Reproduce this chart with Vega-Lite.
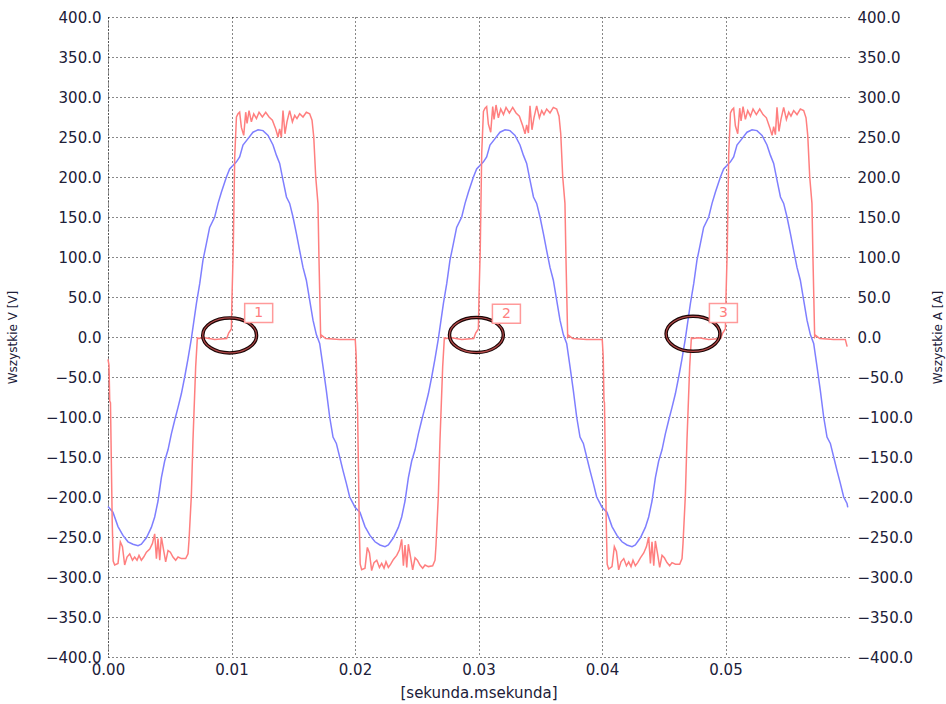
{
  "$schema": "https://vega.github.io/schema/vega-lite/v6.json",
  "width": 741,
  "height": 640,
  "autosize": "none",
  "padding": {"left": 108, "top": 17, "right": 97, "bottom": 47},
  "background": "white",
  "config": {
    "font": "DejaVu Sans",
    "view": {"stroke": null}
  },
  "datasets": {
    "blue": [
      {"t":0,"v":-212},{"t":0.0004,"v":-219},{"t":0.00081,"v":-237},{"t":0.00121,"v":-248},{"t":0.00162,"v":-256},{"t":0.00202,"v":-259},{"t":0.00243,"v":-261},{"t":0.0027,"v":-259},{"t":0.00311,"v":-251},{"t":0.00351,"v":-238},{"t":0.00378,"v":-225},{"t":0.00405,"v":-205},{"t":0.00432,"v":-176},{"t":0.00459,"v":-155},{"t":0.00486,"v":-141},{"t":0.00513,"v":-121},{"t":0.0054,"v":-104},{"t":0.00567,"v":-88},{"t":0.00594,"v":-71},{"t":0.00621,"v":-50},{"t":0.00648,"v":-27},{"t":0.00675,"v":-2},{"t":0.00716,"v":42},{"t":0.00743,"v":67},{"t":0.00769,"v":96},{"t":0.00797,"v":117},{"t":0.00823,"v":137},{"t":0.00864,"v":150},{"t":0.00891,"v":167},{"t":0.00918,"v":181},{"t":0.00959,"v":200},{"t":0.00985,"v":210},{"t":0.0104,"v":219},{"t":0.01066,"v":225},{"t":0.01093,"v":240},{"t":0.01134,"v":248},{"t":0.01174,"v":256},{"t":0.01215,"v":259},{"t":0.01255,"v":258},{"t":0.01296,"v":252},{"t":0.01336,"v":240},{"t":0.01364,"v":227},{"t":0.0139,"v":217},{"t":0.01417,"v":196},{"t":0.01445,"v":175},{"t":0.01471,"v":167},{"t":0.01498,"v":150},{"t":0.01526,"v":129},{"t":0.01552,"v":108},{"t":0.01579,"v":87},{"t":0.01606,"v":71},{"t":0.01633,"v":46},{"t":0.0166,"v":21},{"t":0.01687,"v":3},{"t":0.01714,"v":-8},{"t":0.01741,"v":-37},{"t":0.01768,"v":-67},{"t":0.01795,"v":-100},{"t":0.01822,"v":-125},{"t":0.01849,"v":-133},{"t":0.01876,"v":-150},{"t":0.01903,"v":-167},{"t":0.0193,"v":-183},{"t":0.01957,"v":-200},{"t":0.01984,"v":-208},
      {"t":0.02,"v":-213},{"t":0.0204,"v":-219},{"t":0.02081,"v":-237},{"t":0.02121,"v":-248},{"t":0.02162,"v":-256},{"t":0.02202,"v":-260},{"t":0.02243,"v":-262},{"t":0.0227,"v":-260},{"t":0.02311,"v":-251},{"t":0.02351,"v":-238},{"t":0.02378,"v":-225},{"t":0.02405,"v":-205},{"t":0.02432,"v":-176},{"t":0.02459,"v":-155},{"t":0.02486,"v":-141},{"t":0.02513,"v":-121},{"t":0.0254,"v":-104},{"t":0.02567,"v":-88},{"t":0.02594,"v":-71},{"t":0.02621,"v":-50},{"t":0.02648,"v":-27},{"t":0.02675,"v":-2},{"t":0.02716,"v":42},{"t":0.02743,"v":67},{"t":0.02769,"v":96},{"t":0.02797,"v":117},{"t":0.02823,"v":137},{"t":0.02864,"v":150},{"t":0.02891,"v":167},{"t":0.02918,"v":181},{"t":0.02959,"v":200},{"t":0.02985,"v":210},{"t":0.0304,"v":219},{"t":0.03066,"v":225},{"t":0.03093,"v":240},{"t":0.03134,"v":248},{"t":0.03174,"v":256},{"t":0.03215,"v":259},{"t":0.03255,"v":258},{"t":0.03296,"v":252},{"t":0.03336,"v":240},{"t":0.03364,"v":227},{"t":0.0339,"v":217},{"t":0.03417,"v":196},{"t":0.03445,"v":175},{"t":0.03471,"v":167},{"t":0.03498,"v":150},{"t":0.03526,"v":129},{"t":0.03552,"v":108},{"t":0.03579,"v":87},{"t":0.03606,"v":71},{"t":0.03633,"v":46},{"t":0.0366,"v":21},{"t":0.03687,"v":3},{"t":0.03714,"v":-8},{"t":0.03741,"v":-37},{"t":0.03768,"v":-67},{"t":0.03795,"v":-100},{"t":0.03822,"v":-125},{"t":0.03849,"v":-133},{"t":0.03876,"v":-150},{"t":0.03903,"v":-167},{"t":0.0393,"v":-183},{"t":0.03957,"v":-200},{"t":0.03984,"v":-208},
      {"t":0.04,"v":-213},{"t":0.0404,"v":-219},{"t":0.04081,"v":-237},{"t":0.04121,"v":-248},{"t":0.04162,"v":-256},{"t":0.04202,"v":-260},{"t":0.04243,"v":-262},{"t":0.0427,"v":-260},{"t":0.04311,"v":-251},{"t":0.04351,"v":-238},{"t":0.04378,"v":-225},{"t":0.04405,"v":-205},{"t":0.04432,"v":-176},{"t":0.04459,"v":-155},{"t":0.04486,"v":-141},{"t":0.04513,"v":-121},{"t":0.0454,"v":-104},{"t":0.04567,"v":-88},{"t":0.04594,"v":-71},{"t":0.04621,"v":-50},{"t":0.04648,"v":-27},{"t":0.04675,"v":-2},{"t":0.04716,"v":42},{"t":0.04743,"v":67},{"t":0.04769,"v":96},{"t":0.04797,"v":117},{"t":0.04823,"v":137},{"t":0.04864,"v":150},{"t":0.04891,"v":167},{"t":0.04918,"v":181},{"t":0.04959,"v":200},{"t":0.04985,"v":210},{"t":0.0504,"v":219},{"t":0.05066,"v":225},{"t":0.05093,"v":240},{"t":0.05134,"v":248},{"t":0.05174,"v":256},{"t":0.05215,"v":259},{"t":0.05255,"v":258},{"t":0.05296,"v":252},{"t":0.05336,"v":240},{"t":0.05364,"v":227},{"t":0.0539,"v":217},{"t":0.05417,"v":196},{"t":0.05445,"v":175},{"t":0.05471,"v":167},{"t":0.05498,"v":150},{"t":0.05526,"v":129},{"t":0.05552,"v":108},{"t":0.05579,"v":87},{"t":0.05606,"v":71},{"t":0.05633,"v":46},{"t":0.0566,"v":21},{"t":0.05687,"v":3},{"t":0.05714,"v":-8},{"t":0.05741,"v":-37},{"t":0.05768,"v":-67},{"t":0.05795,"v":-100},{"t":0.05822,"v":-125},{"t":0.05849,"v":-133},{"t":0.05876,"v":-150},{"t":0.05903,"v":-167},{"t":0.0593,"v":-183},{"t":0.05957,"v":-200},{"t":0.05984,"v":-208},{"t":0.0599,"v":-213}
    ],
    "red": [
      {"t":0,"v":-28},{"t":0.00008,"v":-35},{"t":0.00014,"v":-80},{"t":0.0002,"v":-82},{"t":0.00026,"v":-145},{"t":0.00034,"v":-230},{"t":0.00042,"v":-280},{"t":0.00054,"v":-285},{"t":0.00081,"v":-283},{"t":0.001,"v":-256},{"t":0.00117,"v":-262},{"t":0.00135,"v":-285},{"t":0.00154,"v":-275},{"t":0.00176,"v":-271},{"t":0.00198,"v":-279},{"t":0.00216,"v":-275},{"t":0.00235,"v":-279},{"t":0.00251,"v":-273},{"t":0.0027,"v":-279},{"t":0.00289,"v":-275},{"t":0.00311,"v":-269},{"t":0.00338,"v":-265},{"t":0.0036,"v":-258},{"t":0.00378,"v":-246},{"t":0.00392,"v":-277},{"t":0.00405,"v":-252},{"t":0.00419,"v":-279},{"t":0.00432,"v":-250},{"t":0.00451,"v":-267},{"t":0.00467,"v":-281},{"t":0.00486,"v":-267},{"t":0.00505,"v":-269},{"t":0.00526,"v":-275},{"t":0.00548,"v":-279},{"t":0.00567,"v":-275},{"t":0.00594,"v":-277},{"t":0.00629,"v":-277},{"t":0.00648,"v":-271},{"t":0.00656,"v":-254},{"t":0.00675,"v":-198},{"t":0.00688,"v":-129},{"t":0.0071,"v":-37},{"t":0.00724,"v":0},{"t":0.00726,"v":-2},{"t":0.00783,"v":-1},{"t":0.00864,"v":-3},{"t":0.00961,"v":-2},{"t":0.00977,"v":5},{"t":0.00999,"v":10},{"t":0.01004,"v":50},{"t":0.01014,"v":108},{"t":0.01026,"v":225},{"t":0.0104,"v":275},{"t":0.01053,"v":279},{"t":0.01066,"v":281},{"t":0.0108,"v":262},{"t":0.01099,"v":252},{"t":0.01115,"v":281},{"t":0.01126,"v":267},{"t":0.01142,"v":283},{"t":0.01161,"v":269},{"t":0.0118,"v":279},{"t":0.01202,"v":273},{"t":0.01223,"v":281},{"t":0.0125,"v":275},{"t":0.01277,"v":281},{"t":0.01304,"v":275},{"t":0.01331,"v":271},{"t":0.01358,"v":260},{"t":0.01377,"v":250},{"t":0.0139,"v":260},{"t":0.01404,"v":250},{"t":0.01417,"v":283},{"t":0.01433,"v":254},{"t":0.01449,"v":269},{"t":0.01471,"v":283},{"t":0.01493,"v":269},{"t":0.01512,"v":277},{"t":0.0153,"v":273},{"t":0.01552,"v":279},{"t":0.01579,"v":275},{"t":0.01606,"v":281},{"t":0.01633,"v":279},{"t":0.01652,"v":271},{"t":0.01666,"v":250},{"t":0.01682,"v":200},{"t":0.017,"v":167},{"t":0.01708,"v":100},{"t":0.01722,"v":0},{"t":0.0173,"v":2},{"t":0.01763,"v":-2},{"t":0.01876,"v":-3},{"t":0.02002,"v":-3},
      {"t":0.0201,"v":-25},{"t":0.02016,"v":-80},{"t":0.0202,"v":-82},{"t":0.02026,"v":-145},{"t":0.02034,"v":-230},{"t":0.02042,"v":-284},{"t":0.02054,"v":-291},{"t":0.02081,"v":-289},{"t":0.021,"v":-263},{"t":0.02117,"v":-270},{"t":0.02135,"v":-292},{"t":0.02154,"v":-282},{"t":0.02176,"v":-279},{"t":0.02198,"v":-288},{"t":0.02216,"v":-283},{"t":0.02235,"v":-289},{"t":0.02251,"v":-281},{"t":0.0227,"v":-288},{"t":0.02289,"v":-284},{"t":0.02311,"v":-278},{"t":0.02338,"v":-273},{"t":0.0236,"v":-266},{"t":0.02378,"v":-253},{"t":0.02392,"v":-286},{"t":0.02405,"v":-260},{"t":0.02419,"v":-288},{"t":0.02432,"v":-259},{"t":0.02451,"v":-276},{"t":0.02467,"v":-291},{"t":0.02486,"v":-276},{"t":0.02505,"v":-279},{"t":0.02526,"v":-285},{"t":0.02548,"v":-289},{"t":0.02567,"v":-285},{"t":0.02594,"v":-287},{"t":0.02629,"v":-286},{"t":0.02648,"v":-279},{"t":0.02656,"v":-260},{"t":0.02675,"v":-198},{"t":0.02688,"v":-129},{"t":0.0271,"v":-37},{"t":0.02724,"v":0},{"t":0.02726,"v":-2},{"t":0.02783,"v":-1},{"t":0.02864,"v":-3},{"t":0.02961,"v":-2},{"t":0.02977,"v":5},{"t":0.02999,"v":10},{"t":0.03004,"v":50},{"t":0.03014,"v":108},{"t":0.03026,"v":230},{"t":0.0304,"v":282},{"t":0.03053,"v":286},{"t":0.03066,"v":288},{"t":0.0308,"v":266},{"t":0.03099,"v":256},{"t":0.03115,"v":288},{"t":0.03126,"v":272},{"t":0.03142,"v":290},{"t":0.03161,"v":274},{"t":0.0318,"v":285},{"t":0.03202,"v":278},{"t":0.03223,"v":287},{"t":0.0325,"v":280},{"t":0.03277,"v":287},{"t":0.03304,"v":280},{"t":0.03331,"v":276},{"t":0.03358,"v":264},{"t":0.03377,"v":254},{"t":0.0339,"v":265},{"t":0.03404,"v":255},{"t":0.03417,"v":289},{"t":0.03433,"v":259},{"t":0.03449,"v":274},{"t":0.03471,"v":289},{"t":0.03493,"v":274},{"t":0.03512,"v":283},{"t":0.0353,"v":278},{"t":0.03552,"v":285},{"t":0.03579,"v":280},{"t":0.03606,"v":287},{"t":0.03633,"v":285},{"t":0.03652,"v":276},{"t":0.03666,"v":254},{"t":0.03682,"v":200},{"t":0.037,"v":167},{"t":0.03708,"v":100},{"t":0.03722,"v":0},{"t":0.0373,"v":2},{"t":0.03763,"v":-2},{"t":0.03876,"v":-3},{"t":0.04002,"v":-3},
      {"t":0.0401,"v":-25},{"t":0.04016,"v":-80},{"t":0.0402,"v":-82},{"t":0.04026,"v":-145},{"t":0.04034,"v":-230},{"t":0.04042,"v":-284},{"t":0.04054,"v":-290},{"t":0.04081,"v":-287},{"t":0.041,"v":-262},{"t":0.04117,"v":-268},{"t":0.04135,"v":-291},{"t":0.04154,"v":-281},{"t":0.04176,"v":-277},{"t":0.04198,"v":-286},{"t":0.04216,"v":-281},{"t":0.04235,"v":-287},{"t":0.04251,"v":-279},{"t":0.0427,"v":-286},{"t":0.04289,"v":-282},{"t":0.04311,"v":-276},{"t":0.04338,"v":-270},{"t":0.0436,"v":-262},{"t":0.04378,"v":-250},{"t":0.04392,"v":-283},{"t":0.04405,"v":-256},{"t":0.04419,"v":-286},{"t":0.04432,"v":-255},{"t":0.04451,"v":-272},{"t":0.04467,"v":-288},{"t":0.04486,"v":-273},{"t":0.04505,"v":-276},{"t":0.04526,"v":-282},{"t":0.04548,"v":-286},{"t":0.04567,"v":-282},{"t":0.04594,"v":-284},{"t":0.04629,"v":-284},{"t":0.04648,"v":-277},{"t":0.04656,"v":-258},{"t":0.04675,"v":-198},{"t":0.04688,"v":-129},{"t":0.0471,"v":-37},{"t":0.04724,"v":0},{"t":0.04726,"v":-2},{"t":0.04783,"v":-1},{"t":0.04864,"v":-3},{"t":0.04961,"v":-2},{"t":0.04977,"v":5},{"t":0.04999,"v":10},{"t":0.05004,"v":50},{"t":0.05014,"v":108},{"t":0.05026,"v":228},{"t":0.0504,"v":280},{"t":0.05053,"v":284},{"t":0.05066,"v":286},{"t":0.0508,"v":264},{"t":0.05099,"v":254},{"t":0.05115,"v":286},{"t":0.05126,"v":270},{"t":0.05142,"v":288},{"t":0.05161,"v":272},{"t":0.0518,"v":283},{"t":0.05202,"v":276},{"t":0.05223,"v":285},{"t":0.0525,"v":278},{"t":0.05277,"v":285},{"t":0.05304,"v":278},{"t":0.05331,"v":274},{"t":0.05358,"v":262},{"t":0.05377,"v":252},{"t":0.0539,"v":263},{"t":0.05404,"v":253},{"t":0.05417,"v":287},{"t":0.05433,"v":257},{"t":0.05449,"v":272},{"t":0.05471,"v":287},{"t":0.05493,"v":272},{"t":0.05512,"v":281},{"t":0.0553,"v":276},{"t":0.05552,"v":283},{"t":0.05579,"v":278},{"t":0.05606,"v":285},{"t":0.05633,"v":283},{"t":0.05652,"v":274},{"t":0.05666,"v":252},{"t":0.05682,"v":200},{"t":0.057,"v":167},{"t":0.05708,"v":100},{"t":0.05722,"v":0},{"t":0.0573,"v":2},{"t":0.05763,"v":-2},{"t":0.05876,"v":-3},{"t":0.0597,"v":-3},{"t":0.05985,"v":-12}
    ],
    "rings": [
      {"t":0.00985,"v":2},{"t":0.02983,"v":2.5},{"t":0.04737,"v":4}
    ],
    "boxes": [
      {"t":0.0122,"v":30,"n":"1"},{"t":0.03226,"v":29,"n":"2"},{"t":0.04983,"v":30,"n":"3"}
    ]
  },
  "layer": [
    {
      "data": {"name": "blue"},
      "mark": {"type": "line", "color": "#7f7fff", "strokeWidth": 1.5, "interpolate": "linear"},
      "encoding": {
        "x": {
          "field": "t", "type": "quantitative",
          "scale": {"domain": [0, 0.06], "nice": false, "zero": false},
          "axis": {
            "values": [0, 0.01, 0.02, 0.03, 0.04, 0.05],
            "format": ".2f",
            "grid": true, "gridColor": "#111111", "gridDash": [1, 3], "gridWidth": 1, "gridOpacity": 1,
            "domain": false, "ticks": false, "tickSize": 0,
            "labelFlush": false, "labelOverlap": false, "labelBound": false,
            "labelPadding": 5, "labelFontSize": 15, "labelColor": "#202038", "labelFont": "DejaVu Sans",
            "title": "[sekunda.msekunda]", "titleFontSize": 15, "titleFontWeight": "normal", "titleColor": "#202038",
            "titleFont": "DejaVu Sans", "titleY": 28, "titleBaseline": "top"
          }
        },
        "y": {
          "field": "v", "type": "quantitative",
          "scale": {"domain": [-400, 400], "nice": false, "zero": false},
          "axis": {
            "orient": "left",
            "values": [-400, -350, -300, -250, -200, -150, -100, -50, 0, 50, 100, 150, 200, 250, 300, 350, 400],
            "format": ".1f",
            "grid": true, "gridColor": "#111111", "gridDash": [1, 3], "gridWidth": 1, "gridOpacity": 1,
            "domain": true, "domainColor": "#222222", "domainDash": [1, 2],
            "ticks": false, "tickSize": 0,
            "labelFlush": false, "labelOverlap": false, "labelBound": false,
            "labelPadding": 7, "labelFontSize": 15, "labelColor": "#202038", "labelFont": "DejaVu Sans",
            "title": "Wszystkie V [V]", "titleFontSize": 12, "titleFontWeight": "normal", "titleColor": "#202038",
            "titleFont": "DejaVu Sans", "titleX": -96, "titleY": 320, "titleAngle": 270,
            "titleAlign": "center", "titleBaseline": "middle"
          }
        }
      }
    },
    {
      "data": {"name": "red"},
      "mark": {"type": "line", "color": "#ff7f7f", "strokeWidth": 1.5, "interpolate": "linear"},
      "encoding": {
        "x": {"field": "t", "type": "quantitative"},
        "y": {
          "field": "v", "type": "quantitative",
          "scale": {"domain": [-400, 400], "nice": false, "zero": false},
          "axis": {
            "orient": "right",
            "values": [-400, -350, -300, -250, -200, -150, -100, -50, 0, 50, 100, 150, 200, 250, 300, 350, 400],
            "format": ".1f",
            "grid": false, "domain": false, "ticks": false, "tickSize": 0,
            "labelFlush": false, "labelOverlap": false, "labelBound": false,
            "labelPadding": 8, "labelFontSize": 15, "labelColor": "#202038", "labelFont": "DejaVu Sans",
            "title": "Wszystkie A [A]", "titleFontSize": 12, "titleFontWeight": "normal", "titleColor": "#202038",
            "titleFont": "DejaVu Sans", "titleX": 88, "titleY": 320, "titleAngle": 270,
            "titleAlign": "center", "titleBaseline": "middle"
          }
        }
      }
    },
    {
      "data": {"name": "rings"},
      "mark": {"type": "point", "filled": false, "stroke": "#1a0505", "strokeWidth": 3.5, "opacity": 1,
        "shape": "M-1,0C-1,-0.359,-0.552,-0.65,0,-0.65C0.552,-0.65,1,-0.359,1,0C1,0.359,0.552,0.65,0,0.65C-0.552,0.65,-1,0.359,-1,0Z",
        "size": 2900},
      "encoding": {
        "x": {"field": "t", "type": "quantitative"},
        "y": {"field": "v", "type": "quantitative", "scale": {"domain": [-400, 400], "nice": false, "zero": false}, "axis": null}
      }
    },
    {
      "data": {"name": "rings"},
      "mark": {"type": "point", "filled": false, "stroke": "#b04848", "strokeWidth": 1.2, "opacity": 1,
        "shape": "M-1,0C-1,-0.359,-0.552,-0.65,0,-0.65C0.552,-0.65,1,-0.359,1,0C1,0.359,0.552,0.65,0,0.65C-0.552,0.65,-1,0.359,-1,0Z",
        "size": 2900},
      "encoding": {
        "x": {"field": "t", "type": "quantitative"},
        "y": {"field": "v", "type": "quantitative", "scale": {"domain": [-400, 400], "nice": false, "zero": false}, "axis": null}
      }
    },
    {
      "data": {"name": "boxes"},
      "mark": {"type": "point", "filled": true, "fill": "white", "fillOpacity": 1, "stroke": "#ff9a9a", "strokeWidth": 1.5, "opacity": 1,
        "shape": "M-1,-0.68L1,-0.68L1,0.68L-1,0.68Z",
        "size": 784},
      "encoding": {
        "x": {"field": "t", "type": "quantitative"},
        "y": {"field": "v", "type": "quantitative", "scale": {"domain": [-400, 400], "nice": false, "zero": false}, "axis": null}
      }
    },
    {
      "data": {"name": "boxes"},
      "mark": {"type": "text", "color": "#ff8080", "fontSize": 14, "font": "DejaVu Sans", "align": "center", "baseline": "middle"},
      "encoding": {
        "x": {"field": "t", "type": "quantitative"},
        "y": {"field": "v", "type": "quantitative", "scale": {"domain": [-400, 400], "nice": false, "zero": false}, "axis": null},
        "text": {"field": "n"}
      }
    }
  ],
  "resolve": {"scale": {"y": "independent"}}
}
